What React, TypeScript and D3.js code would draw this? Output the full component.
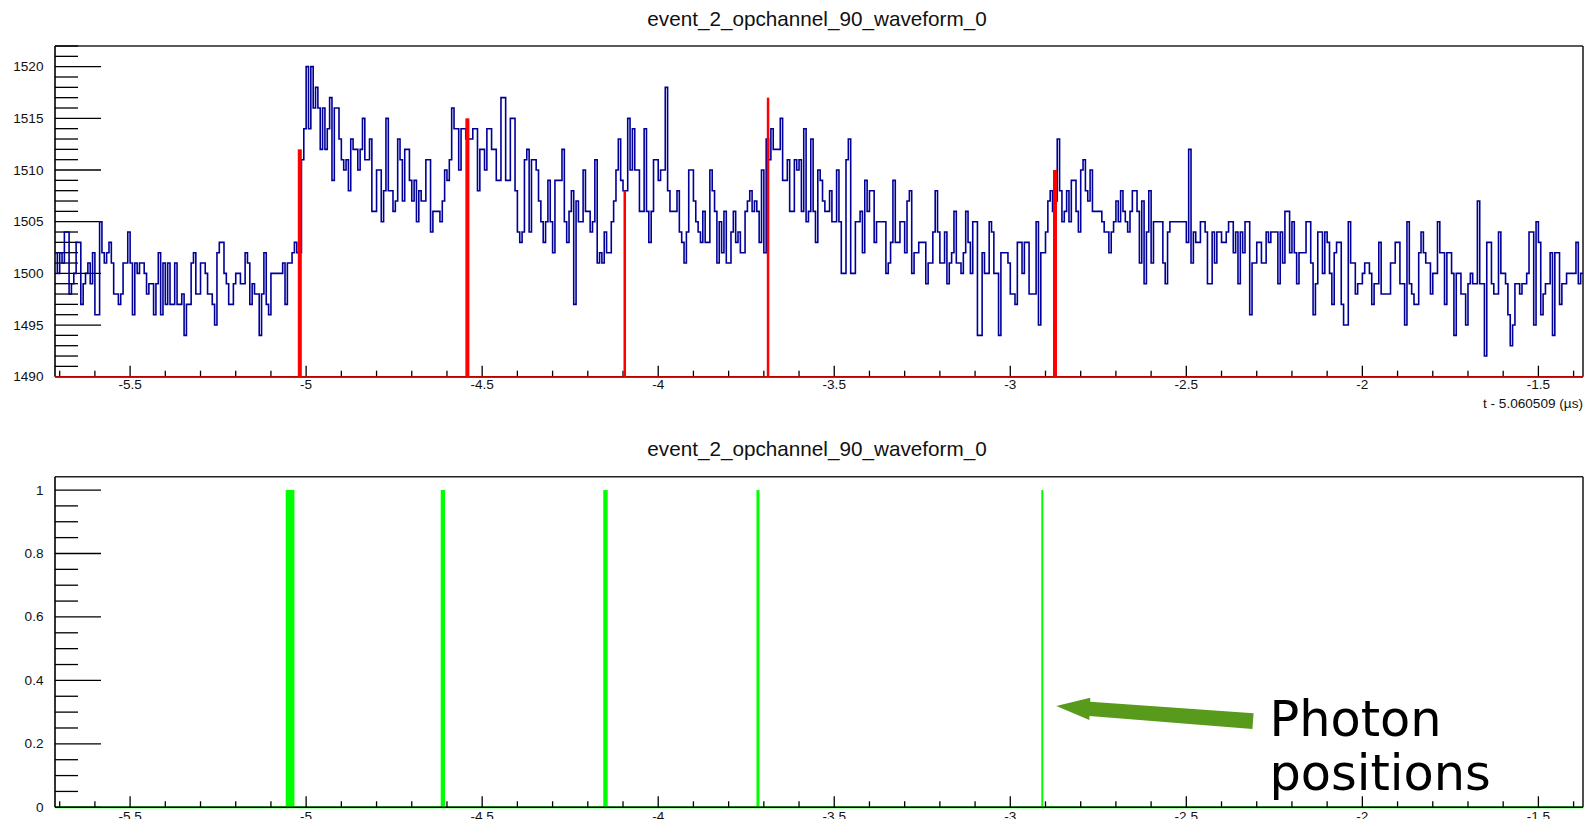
import React from "react";
import * as d3 from "d3";

const W = 1589;
const H = 819;

const TITLE = "event_2_opchannel_90_waveform_0";
const X_TITLE = "t - 5.060509 (µs)";
const NOTE_LINES = ["Photon", "positions"];

// Digitised waveform: 150 MHz sampling, first bin edge in µs (relative time)
const T_START_US = -5.7133;
const BIN_US = 1 / 150;

// ADC samples, split by time range
const adcBaselineEarly = [
  1502, 1500, 1502, 1501, 1504, 1504, 1498, 1499, 1500, 1503, 1503, 1497, 1499, 1500, 1501, 1499,
  1502, 1496, 1496, 1505, 1502, 1501, 1502, 1503, 1501, 1498, 1498, 1497, 1498, 1501, 1501, 1504,
  1501, 1496, 1501, 1500, 1501, 1501, 1500, 1498, 1499, 1499, 1496, 1499, 1502, 1496, 1501, 1497,
  1501, 1497, 1497, 1501, 1497, 1497, 1498, 1494, 1497, 1497, 1501, 1502, 1498, 1498, 1501, 1501,
  1500, 1498, 1498, 1497, 1495, 1502, 1503, 1503, 1500, 1499, 1497, 1497, 1499, 1500, 1500, 1499,
  1499, 1502, 1501, 1497, 1499, 1498, 1498, 1494, 1498, 1502, 1497, 1496, 1500, 1500, 1500, 1500,
  1500, 1501, 1497, 1501, 1501, 1502, 1503, 1502,
];
const adcPulseRise = [
  1502, 1511, 1514, 1520, 1514, 1520, 1516, 1518, 1516, 1512, 1516, 1512, 1514, 1517, 1509, 1516,
  1516, 1513, 1511, 1510, 1511, 1508, 1513, 1512, 1512, 1510, 1512, 1515, 1511, 1511, 1513, 1506,
  1506, 1510, 1510, 1505, 1508, 1515, 1508, 1508, 1506, 1507, 1513, 1511,
];
const adcPulseBody = [
  1507, 1512, 1512, 1509, 1507, 1509, 1505, 1508, 1507, 1507, 1511, 1511, 1504, 1506, 1506, 1506,
  1505, 1507, 1510, 1509, 1511, 1516, 1514, 1514, 1510, 1514, 1514, 1513, 1513, 1513, 1514, 1514,
  1508, 1512, 1512, 1510, 1514, 1514, 1512, 1512, 1509, 1509, 1517, 1517, 1509, 1509, 1515, 1515,
  1508, 1504, 1503, 1504, 1511, 1512, 1504, 1511, 1511, 1510, 1507, 1505, 1503, 1505, 1509, 1505,
  1502, 1509, 1509, 1509, 1512, 1505, 1503, 1506, 1508, 1497, 1507, 1505, 1505, 1510, 1506, 1506,
  1504, 1505, 1511, 1501, 1502, 1501, 1504, 1502, 1502, 1505, 1507, 1510, 1513, 1509, 1508, 1508,
  1515, 1510, 1514, 1510, 1510, 1506, 1506, 1514, 1506, 1503, 1506, 1511, 1511, 1509, 1510, 1510,
  1518, 1508, 1506, 1506, 1506, 1508, 1504, 1503, 1501, 1504, 1510, 1510, 1507, 1505, 1504, 1503,
  1506, 1503, 1503, 1510, 1508, 1506, 1501, 1505, 1502, 1506, 1501, 1501, 1504, 1506, 1503, 1504,
  1502, 1502, 1506, 1507, 1508, 1506, 1507, 1506, 1503, 1510, 1502, 1513, 1511, 1514, 1512, 1512,
  1512, 1515,
];
const adcPulseTail = [
  1509, 1509, 1511, 1506, 1506, 1511, 1510, 1511, 1506, 1514, 1505, 1506, 1513, 1506, 1503, 1510,
  1509, 1507, 1506, 1506, 1508, 1505, 1505, 1510, 1505, 1500, 1500, 1511, 1513, 1500, 1500, 1505,
  1505, 1506, 1502, 1509, 1506, 1508, 1508, 1503, 1505, 1505, 1505, 1505, 1500, 1501, 1503, 1509,
  1503, 1503, 1505, 1505, 1502, 1507, 1508, 1500, 1502, 1502, 1503, 1503, 1503, 1499, 1501, 1501,
  1504, 1508, 1504, 1501, 1501, 1504, 1499, 1501, 1502, 1506, 1501, 1501, 1500, 1502, 1506, 1503,
  1500, 1505, 1505, 1494, 1494, 1502, 1500, 1500, 1505, 1504, 1500, 1500, 1494, 1502, 1502, 1502,
  1501, 1498, 1498, 1497, 1503, 1503, 1500, 1503, 1503, 1498, 1498, 1498, 1505, 1495, 1502, 1502,
  1504, 1507, 1508, 1506, 1507, 1513, 1508, 1505, 1506, 1508, 1505, 1509, 1509, 1506, 1504, 1510,
  1511, 1508, 1507, 1510, 1506, 1506, 1506, 1506, 1505, 1504, 1504, 1502, 1504, 1505, 1507, 1505,
  1508, 1506, 1505, 1504, 1506, 1508, 1508, 1506, 1501, 1507, 1499, 1504, 1508, 1501, 1505, 1505,
  1505, 1505, 1501, 1499, 1504, 1505, 1505, 1505, 1505, 1505,
];
const adcLate = [
  1505, 1505, 1503, 1512, 1501, 1504, 1503, 1503, 1505, 1505, 1504, 1499, 1499, 1504, 1501, 1504,
  1504, 1503, 1503, 1504, 1505, 1505, 1502, 1504, 1499, 1504, 1502, 1505, 1505, 1496, 1501, 1501,
  1503, 1503, 1501, 1501, 1504, 1503, 1504, 1504, 1504, 1499, 1504, 1501, 1506, 1506, 1502, 1505,
  1502, 1499, 1502, 1502, 1502, 1505, 1505, 1501, 1496, 1499, 1504, 1504, 1500, 1504, 1503, 1500,
  1497, 1502, 1503, 1503, 1497, 1495, 1495, 1505, 1501, 1501, 1498, 1499, 1499, 1500, 1501, 1501,
  1500, 1497, 1499, 1499, 1503, 1498, 1498, 1498, 1498, 1501, 1501, 1503, 1503, 1499, 1499, 1495,
  1505, 1499, 1498, 1497, 1497, 1502, 1504, 1502, 1501, 1501, 1498, 1500, 1500, 1505, 1502, 1502,
  1497, 1502, 1502, 1500, 1494, 1500, 1500, 1498, 1498, 1495, 1499, 1500, 1499, 1499, 1507, 1499,
  1499, 1492, 1503, 1503, 1499, 1498, 1498, 1504, 1500, 1500, 1499, 1496, 1493, 1495, 1499, 1499,
  1498, 1499, 1499, 1500, 1504, 1504, 1495, 1505, 1503, 1496, 1498, 1499, 1499, 1502, 1494, 1502,
  1502, 1497, 1499, 1499, 1500, 1500, 1500, 1500, 1503, 1499, 1500,
];
const waveform = [...adcBaselineEarly, ...adcPulseRise, ...adcPulseBody, ...adcPulseTail, ...adcLate];

// Reconstructed hits (red): start/end time in µs and ADC level
const hitStartUs = [-5.0237, -4.5477, -4.0986, -3.6916, -2.8787];
const hitEndUs = [-5.0123, -4.5363, -4.0914, -3.6844, -2.8673];
const hitAdc = [1512, 1515, 1508, 1517, 1510];

// True photon arrival bins (green)
const photonStartUs = [-5.058, -4.6178, -4.156, -3.7209, -2.9119];
const photonEndUs = [-5.0333, -4.6056, -4.1435, -3.7124, -2.9062];
const photonCount = [1, 1, 1, 1, 1];

const xMajorTicks = [-5.5, -5, -4.5, -4, -3.5, -3, -2.5, -2, -1.5];
const adcMajorTicks = [1490, 1495, 1500, 1505, 1510, 1515, 1520];
const countMajorTicks = [0, 0.2, 0.4, 0.6, 0.8, 1];

const FONT = "'Liberation Sans', Arial, Helvetica, sans-serif";
const BLUE = "#000099";

function fmt(v: number) {
  return String(+v.toFixed(2));
}

function Frame({ x, top, bottom }: { x: d3.ScaleLinear<number, number>; top: number; bottom: number }) {
  const [x0, x1] = x.range();
  return (
    <g>
      <line x1={x0} x2={x1} y1={top} y2={top} stroke="#222" strokeWidth={1.6} />
      <line x1={x1} x2={x1} y1={top} y2={bottom} stroke="#222" strokeWidth={1.6} />
    </g>
  );
}

function Axes({
  x,
  y,
  yMajors,
  yMinorStep,
  xLabelTop,
}: {
  x: d3.ScaleLinear<number, number>;
  y: d3.ScaleLinear<number, number>;
  yMajors: number[];
  yMinorStep: number;
  xLabelTop: number;
}) {
  const [x0, x1] = x.range();
  const [yb, yt] = y.range();
  const [d0, d1] = y.domain();
  const yMinors: number[] = [];
  for (let v = d0; v <= d1 + 1e-9; v += yMinorStep) {
    const r = +v.toFixed(4);
    if (!yMajors.some((m) => Math.abs(m - r) < 1e-6)) yMinors.push(r);
  }
  const [xd0, xd1] = x.domain();
  const xMinors: number[] = [];
  for (let v = Math.ceil(xd0 * 10) / 10; v <= xd1 + 1e-9; v += 0.1) {
    const r = +v.toFixed(2);
    if (!xMajorTicks.some((m) => Math.abs(m - r) < 1e-6)) xMinors.push(r);
  }
  return (
    <g stroke="#000" strokeWidth={1.3}>
      <line x1={x0} x2={x0} y1={yt} y2={yb} strokeWidth={1.6} />
      <line x1={x0} x2={x1} y1={yb} y2={yb} strokeWidth={1.6} />
      {yMajors.map((v) => (
        <line key={"ym" + v} x1={x0} x2={x0 + 46} y1={y(v)} y2={y(v)} />
      ))}
      {yMinors.map((v) => (
        <line key={"yn" + v} x1={x0} x2={x0 + 23} y1={y(v)} y2={y(v)} />
      ))}
      {xMajorTicks.map((v) => (
        <line key={"xm" + v} x1={x(v)} x2={x(v)} y1={yb} y2={yb - 11} />
      ))}
      {xMinors.map((v) => (
        <line key={"xn" + v} x1={x(v)} x2={x(v)} y1={yb} y2={yb - 6} />
      ))}
      <g stroke="none" fill="#111" fontFamily={FONT} fontSize={13.6}>
        {yMajors.map((v) => (
          <text key={"yl" + v} x={43.5} y={y(v)} textAnchor="end" dominantBaseline="central">
            {fmt(v)}
          </text>
        ))}
        {xMajorTicks.map((v) => (
          <text key={"xl" + v} x={x(v)} y={xLabelTop} textAnchor="middle" dominantBaseline="hanging">
            {fmt(v)}
          </text>
        ))}
      </g>
    </g>
  );
}

export default function App() {
  const tEnd = T_START_US + waveform.length * BIN_US;

  // upper pad: waveform
  const xTop = d3.scaleLinear().domain([T_START_US, tEnd]).range([55, 1583]);
  const yTop = d3.scaleLinear().domain([1490, 1522]).range([376.7, 46]);

  // lower pad: photons
  const xBot = d3.scaleLinear().domain([T_START_US, tEnd]).range([55, 1583]);
  const yBot = d3.scaleLinear().domain([0, 1.042]).range([807.3, 476.7]);

  const pts: [number, number][] = waveform.map((v, i) => [T_START_US + i * BIN_US, v]);
  pts.push([tEnd, waveform[waveform.length - 1]]);
  const stepLine = d3
    .line<[number, number]>()
    .x((d) => xTop(d[0]))
    .y((d) => yTop(d[1]))
    .curve(d3.curveStepAfter);

  return (
    <svg
      width={W}
      height={H}
      viewBox={`0 0 ${W} ${H}`}
      style={{ position: "absolute", left: 0, top: 0, background: "#fff" }}
    >
      <rect width={W} height={H} fill="#fff" />

      {/* upper pad */}
      <text x={817} y={18} textAnchor="middle" dominantBaseline="central" fontFamily={FONT} fontSize={20.7} fill="#111">
        {TITLE}
      </text>
      <Frame x={xTop} top={46} bottom={376.7} />
      <Axes x={xTop} y={yTop} yMajors={adcMajorTicks} yMinorStep={1} xLabelTop={379.5} />
      <path d={stepLine(pts) || ""} fill="none" stroke={BLUE} strokeWidth={1.6} />
      <line x1={55} x2={1583} y1={yTop(1490) + 0.5} y2={yTop(1490) + 0.5} stroke="#ff0000" strokeWidth={1.8} />
      {hitAdc.map((a, i) => (
        <rect
          key={"hit" + i}
          x={xTop(hitStartUs[i])}
          width={xTop(hitEndUs[i]) - xTop(hitStartUs[i])}
          y={yTop(a)}
          height={yTop(1490) - yTop(a)}
          fill="#ff0000"
        />
      ))}
      <text x={1583} y={408} textAnchor="end" fontFamily={FONT} fontSize={13.6} fill="#111">
        {X_TITLE}
      </text>

      {/* lower pad */}
      <text x={817} y={448} textAnchor="middle" dominantBaseline="central" fontFamily={FONT} fontSize={20.7} fill="#111">
        {TITLE}
      </text>
      <line x1={55} x2={1583} y1={yBot(0)} y2={yBot(0)} stroke="#00ff00" strokeWidth={2} />
      {photonCount.map((c, i) => (
        <rect
          key={"ph" + i}
          x={xBot(photonStartUs[i])}
          width={xBot(photonEndUs[i]) - xBot(photonStartUs[i])}
          y={yBot(c)}
          height={yBot(0) - yBot(c)}
          fill="#00ff00"
        />
      ))}
      <Frame x={xBot} top={476.7} bottom={807.3} />
      <Axes x={xBot} y={yBot} yMajors={countMajorTicks} yMinorStep={0.05} xLabelTop={811.5} />

      {/* annotation arrow and note */}
      <path
        d="M1056.3,706 L1090.2,697.7 L1090.2,701.7 L1253.6,713.3 L1252.4,729 L1089.4,716 L1089.4,720 Z"
        fill="#589a1c"
      />
      <g fontFamily="'DejaVu Sans', sans-serif" fontSize={49.4} fill="#000">
        {NOTE_LINES.map((s, i) => (
          <text key={s} x={1269.4} y={736 + i * 54}>
            {s}
          </text>
        ))}
      </g>
    </svg>
  );
}
